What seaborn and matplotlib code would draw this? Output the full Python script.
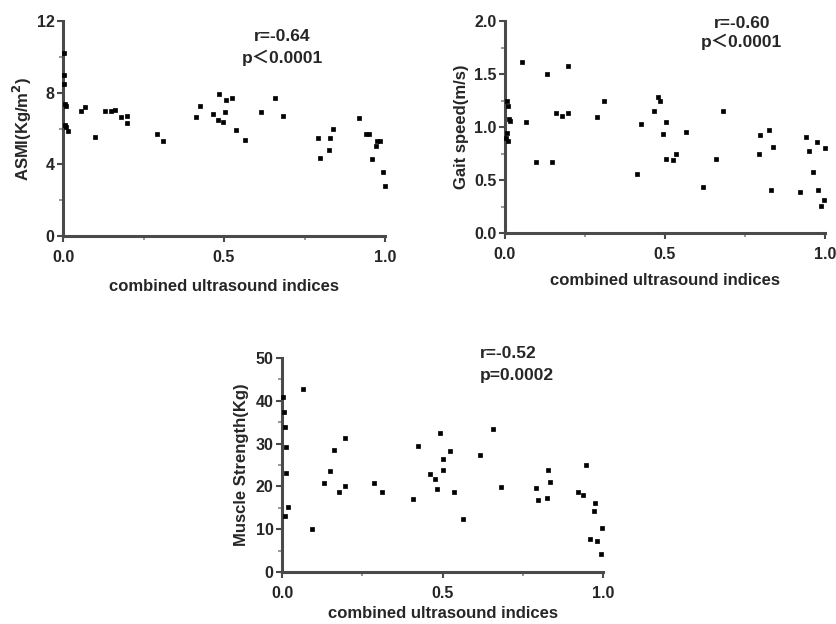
import matplotlib
matplotlib.use("Agg")
import matplotlib.pyplot as plt
import seaborn as sns
import pandas as pd
from matplotlib.ticker import MultipleLocator

sns.set_theme(style="white")
plt.rcParams['font.family'] = ['Liberation Sans', 'Noto Sans CJK SC', 'DejaVu Sans']
plt.rcParams['font.weight'] = 'bold'

# Panel 1: ASMI
asmi_x = [0.003, 0.002, 0.004, 0.006, 0.009, 0.005, 0.008, 0.015, 0.056, 0.069, 0.099,
          0.131, 0.150, 0.160, 0.179, 0.199, 0.199, 0.291, 0.312, 0.412, 0.425, 0.467,
          0.484, 0.482, 0.496, 0.505, 0.504, 0.526, 0.537, 0.566, 0.616, 0.659, 0.684,
          0.793, 0.798, 0.826, 0.830, 0.837, 0.920, 0.941, 0.950, 0.961, 0.971, 0.974,
          0.986, 0.995, 1.000]
asmi_y = [10.2, 9.0, 8.5, 7.35, 7.25, 6.2, 6.1, 5.85, 6.95, 7.2, 5.5,
          7.0, 7.0, 7.05, 6.65, 6.7, 6.3, 5.7, 5.3, 6.65, 7.25, 6.8,
          7.9, 6.5, 6.35, 7.6, 6.9, 7.7, 5.9, 5.35, 6.9, 7.7, 6.7,
          5.45, 4.35, 4.8, 5.45, 5.95, 6.6, 5.7, 5.7, 4.3, 5.05, 5.3,
          5.3, 3.6, 2.8]

# Panel 2: Gait speed
gait_x = [0.005, 0.008, 0.012, 0.015, 0.006, 0.004, 0.009, 0.052, 0.065, 0.096, 0.130,
          0.148, 0.159, 0.177, 0.196, 0.196, 0.289, 0.309, 0.411, 0.425, 0.466, 0.478,
          0.483, 0.493, 0.503, 0.502, 0.525, 0.534, 0.565, 0.618, 0.659, 0.682, 0.793,
          0.798, 0.825, 0.831, 0.838, 0.923, 0.942, 0.950, 0.963, 0.974, 0.979, 0.986,
          0.997, 1.000]
gait_y = [1.25, 1.20, 1.075, 1.06, 0.94, 0.90, 0.87, 1.61, 1.05, 0.67, 1.50,
          0.67, 1.13, 1.10, 1.58, 1.13, 1.09, 1.25, 0.555, 1.03, 1.15, 1.28,
          1.25, 0.93, 1.05, 0.70, 0.69, 0.75, 0.95, 0.435, 0.70, 1.15, 0.75,
          0.92, 0.975, 0.41, 0.81, 0.385, 0.91, 0.77, 0.575, 0.86, 0.41, 0.255,
          0.31, 0.80]

# Panel 3: Muscle strength
grip_x = [0.003, 0.005, 0.010, 0.012, 0.012, 0.020, 0.008, 0.065, 0.095, 0.132, 0.148,
          0.161, 0.177, 0.196, 0.196, 0.287, 0.310, 0.409, 0.425, 0.462, 0.477, 0.483,
          0.491, 0.502, 0.502, 0.523, 0.535, 0.563, 0.616, 0.658, 0.683, 0.792, 0.798,
          0.824, 0.830, 0.836, 0.921, 0.939, 0.948, 0.959, 0.972, 0.976, 0.982, 0.993,
          0.998]
grip_y = [40.8, 37.3, 33.8, 29.1, 23.1, 15.3, 13.0, 42.8, 10.0, 20.7, 23.5,
          28.4, 18.6, 31.2, 20.2, 20.8, 18.6, 17.1, 29.5, 22.9, 21.7, 19.5,
          32.5, 26.3, 23.75, 28.2, 18.6, 12.3, 27.3, 33.4, 19.9, 19.7, 16.8,
          17.2, 23.8, 21.1, 18.6, 17.9, 25.1, 7.7, 14.25, 16.1, 7.3, 4.3,
          10.3]

xlabel = "combined ultrasound indices"
W, H = 836, 624
fig = plt.figure(figsize=(W / 100, H / 100), dpi=100)

def add_ax(x0, y0, x1, y1):
    return fig.add_axes([x0 / W, 1 - y1 / H, (x1 - x0) / W, (y1 - y0) / H])

spine_col = "#4a4a4a"

def style(ax, ymax, ymajor, yminor, yfmt):
    ax.set_xlim(0, 1.0)
    ax.set_ylim(0, ymax)
    ax.xaxis.set_major_locator(MultipleLocator(0.5))
    ax.xaxis.set_minor_locator(MultipleLocator(0.25))
    ax.yaxis.set_major_locator(MultipleLocator(ymajor))
    ax.yaxis.set_minor_locator(MultipleLocator(yminor))
    ax.xaxis.set_major_formatter(plt.FormatStrFormatter("%.1f"))
    ax.yaxis.set_major_formatter(plt.FormatStrFormatter(yfmt))
    for s in ["top", "right"]:
        ax.spines[s].set_visible(False)
    for s in ["left", "bottom"]:
        ax.spines[s].set_color(spine_col)
        ax.spines[s].set_linewidth(2.2)
    ax.tick_params(which="major", direction="out", length=4, width=1.5, color=spine_col,
                   labelsize=11.5, bottom=True, left=True)
    ax.tick_params(axis="x", which="major", pad=6)
    ax.tick_params(axis="y", which="major", pad=2)
    ax.tick_params(which="minor", direction="out", length=3, width=1.2, color="#888888",
                   bottom=True, left=True)
    for lab in ax.get_xticklabels() + ax.get_yticklabels():
        lab.set_fontweight("bold")
    ax.grid(False)
    ax.set_facecolor("white")

def scatter(ax, x, y):
    df = pd.DataFrame({"x": x, "y": y})
    sns.scatterplot(data=df, x="x", y="y", ax=ax, marker="s", s=9, color="black",
                    edgecolor="black", linewidth=0.5, clip_on=False, zorder=5)

# Panel 1
ax1 = add_ax(63, 21, 385, 236)
scatter(ax1, asmi_x, asmi_y)
style(ax1, 12, 4, 2, "%d")
ax1.set_xlabel(xlabel, fontsize=12, fontweight="bold", labelpad=10)
ax1.set_ylabel("ASMI(Kg/m$^\\mathbf{2}$)", fontsize=12, fontweight="bold", labelpad=2)
ax1.text(0.68, 0.93, "r=-0.64", transform=ax1.transAxes, ha="center", va="center",
         fontsize=12.5, fontweight="bold")
ax1.text(0.68, 0.83, "p\uff1c0.0001", transform=ax1.transAxes, ha="center", va="center",
         fontsize=12.5, fontweight="bold")

# Panel 2
ax2 = add_ax(505, 21, 825, 233)
scatter(ax2, gait_x, gait_y)
style(ax2, 2.0, 0.5, 0.25, "%.1f")
ax2.set_xlabel(xlabel, fontsize=12, fontweight="bold", labelpad=8)
ax2.set_ylabel("Gait speed(m/s)", fontsize=12, fontweight="bold", labelpad=4)
ax2.text(0.74, 0.99, "r=-0.60", transform=ax2.transAxes, ha="center", va="center",
         fontsize=12.5, fontweight="bold")
ax2.text(0.74, 0.90, "p\uff1c0.0001", transform=ax2.transAxes, ha="center", va="center",
         fontsize=12.5, fontweight="bold")

# Panel 3
ax3 = add_ax(282, 358, 603, 572)
scatter(ax3, grip_x, grip_y)
style(ax3, 50, 10, 5, "%d")
ax3.set_xlabel(xlabel, fontsize=12, fontweight="bold", labelpad=4)
ax3.set_ylabel("Muscle Strength(Kg)", fontsize=12, fontweight="bold", labelpad=5)
ax3.text(0.615, 1.02, "r=-0.52", transform=ax3.transAxes, ha="left", va="center",
         fontsize=12.5, fontweight="bold")
ax3.text(0.615, 0.92, "p=0.0002", transform=ax3.transAxes, ha="left", va="center",
         fontsize=12.5, fontweight="bold")

fig.savefig("out.png", dpi=100, facecolor="white")
